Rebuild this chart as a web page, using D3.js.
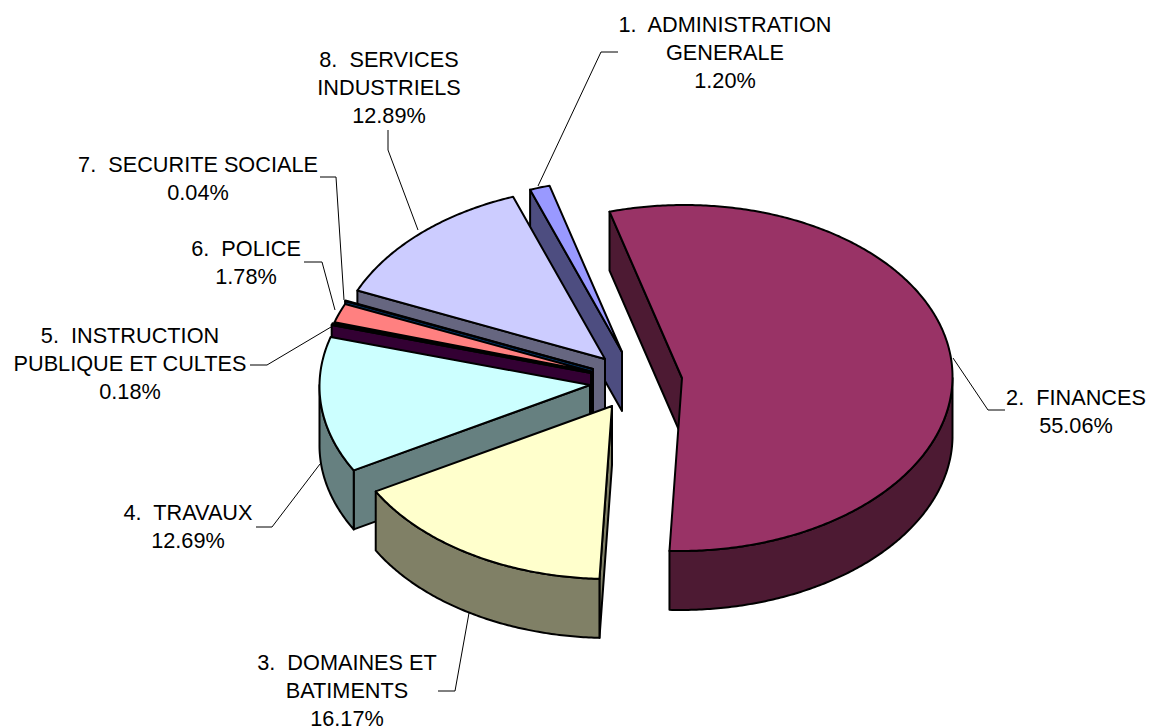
<!DOCTYPE html>
<html>
<head>
<meta charset="utf-8">
<script src="https://cdn.jsdelivr.net/npm/d3@7"></script>
<style>
  html, body { margin: 0; background: #fff; }
  text { font-family: "Liberation Sans", Arial, sans-serif; font-size: 21.7px; fill: #000; white-space: pre; }
</style>
</head>
<body>
<div id="chart"></div>
<script>
// data
const categoryLines = [
    ['ADMINISTRATION', 'GENERALE'],
    ['FINANCES'],
    ['DOMAINES ET', 'BATIMENTS'],
    ['TRAVAUX'],
    ['INSTRUCTION', 'PUBLIQUE ET CULTES'],
    ['POLICE'],
    ['SECURITE SOCIALE'],
    ['SERVICES', 'INDUSTRIELS']
];
const shares = [1.20, 55.06, 16.17, 12.69, 0.18, 1.78, 0.04, 12.89];

// colours
const topColors = ['#9999ff', '#993366', '#ffffcc', '#ccffff', '#660066', '#ff8080', '#0066cc', '#ccccff'];
const wallColors = ['#4d4d80', '#4d1a33', '#808066', '#668080', '#330033', '#804040', '#003366', '#666680'];

// layout
const WIDTH = 1149;
const HEIGHT = 727;
const CENTER = [625, 378];
const RADIUS_X = 270.5;
const RADIUS_Y = 173;
const DEPTH = 59;
const START_ANGLE = -20.3 * Math.PI / 180;
// the front of the pie leans a little to the left
const LEAN = -0.012;
// how far each slice is pulled out of the pie
const explode = [[-3, -26], [57, 0], [-13, 28], [-35, 7], [-34, -5], [-32, -6], [-32, -9], [-20, -19]];
// slices are painted back to front
const paintOrder = [1, 0, 7, 6, 5, 4, 3, 2];

const labelCenters = [[725, 32], [1076, 405], [347, 670], [188, 520], [130, 343], [246, 256], [198, 172], [389, 67]];
const LINE_HEIGHT = 28;
const leaders = [
    [[538, 186], [601, 52], [618, 52]],
    [[953, 358], [988, 410], [1005, 410]],
    [[469, 613], [455, 691], [438, 691]],
    [[320, 464], [272, 527], [256, 527]],
    [[331, 327], [267, 365], [250, 365]],
    [[335, 310], [322, 262], [304, 262]],
    [[344, 300], [336, 177], [320, 177]],
    [[418, 230], [388, 150], [388, 130]]
];

const svg = d3.select('#chart').append('svg')
    .attr('width', WIDTH)
    .attr('height', HEIGHT)
    .style('display', 'block');

const slices = d3.pie()
    .sort(null)
    .startAngle(START_ANGLE)
    .endAngle(START_ANGLE + 2 * Math.PI)(shares);

const xUnit = d3.scaleLinear().domain([-1, 1]).range([-RADIUS_X, RADIUS_X]);
const yUnit = d3.scaleLinear().domain([-1, 1]).range([-RADIUS_Y, RADIUS_Y]);
const line = d3.line();

function rim(angle, depth) {
    const y = yUnit(-Math.cos(angle));
    return [xUnit(Math.sin(angle)) + LEAN * y, y + depth];
}

function arcAngles(start, end) {
    const steps = Math.max(2, Math.ceil((end - start) / 0.01));
    return d3.range(steps + 1).map(i => start + (end - start) * i / steps);
}

// the part of the rim which faces the viewer
function wallPoints(start, end) {
    const from = Math.max(start, Math.PI / 2);
    const to = Math.min(end, 3 * Math.PI / 2);
    if (from >= to) {
        return null;
    }
    const angles = arcAngles(from, to);
    return [...angles.map(a => rim(a, 0)), ...angles.reverse().map(a => rim(a, DEPTH))];
}

function facePoints(angle) {
    return [[0, 0], rim(angle, 0), rim(angle, DEPTH), [0, DEPTH]];
}

function topPoints(start, end) {
    return [[0, 0], ...arcAngles(start, end).map(a => rim(a, 0))];
}

function addShape(group, points, color) {
    group.append('path')
        .attr('d', line(points) + 'Z')
        .attr('fill', color)
        .attr('stroke', '#000')
        .attr('stroke-width', 2)
        .attr('stroke-linejoin', 'round');
}

// leader lines sit under the pie
svg.append('g').selectAll('path')
    .data(leaders)
    .join('path')
    .attr('d', d => line(d))
    .attr('fill', 'none')
    .attr('stroke', '#000')
    .attr('stroke-width', 1);

const pie = svg.append('g').attr('transform', `translate(${CENTER})`);

paintOrder.forEach(i => {
    const { startAngle, endAngle } = slices[i];
    const group = pie.append('g').attr('transform', `translate(${explode[i]})`);
    // only cut faces turned towards the viewer are drawn
    if (Math.sin(startAngle) < 0) {
        addShape(group, facePoints(startAngle), wallColors[i]);
    }
    if (Math.sin(endAngle) > 0) {
        addShape(group, facePoints(endAngle), wallColors[i]);
    }
    const wall = wallPoints(startAngle, endAngle);
    if (wall) {
        addShape(group, wall, wallColors[i]);
    }
    addShape(group, topPoints(startAngle, endAngle), topColors[i]);
});

const percent = d3.format('.2f');

svg.append('g').selectAll('text')
    .data(shares)
    .join('text')
    .attr('text-anchor', 'middle')
    .attr('transform', (d, i) => `translate(${labelCenters[i]})`)
    .each(function (d, i) {
        const rows = categoryLines[i].map((row, r) => r === 0 ? `${i + 1}.  ${row}` : row);
        rows.push(`${percent(d)}%`);
        d3.select(this).selectAll('tspan')
            .data(rows)
            .join('tspan')
            .attr('x', 0)
            .attr('y', (row, r) => r * LINE_HEIGHT)
            .text(row => row);
    });
</script>
</body>
</html>
